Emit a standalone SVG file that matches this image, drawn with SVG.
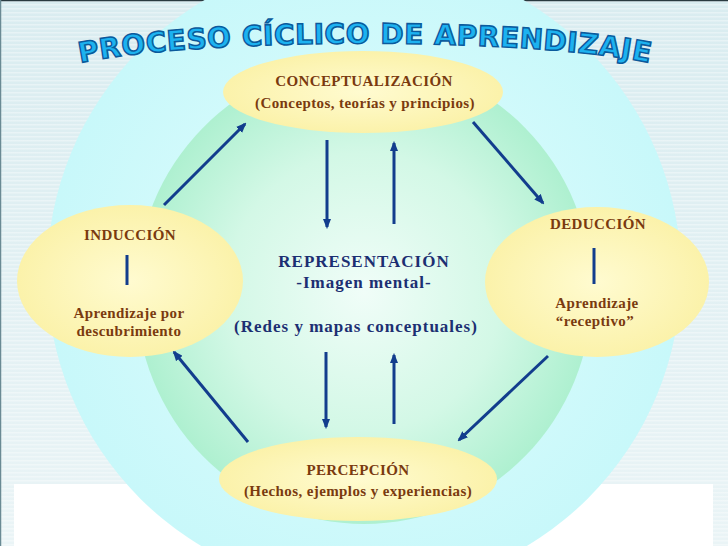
<svg xmlns="http://www.w3.org/2000/svg" width="728" height="546" viewBox="0 0 728 546">
<defs>
<style>
.node-t{font-family:"Liberation Serif","Times New Roman",serif;font-weight:bold;font-size:15px;letter-spacing:0.4px;fill:#7a3a0f;text-anchor:middle}
.rep-t{font-family:"Liberation Serif","Times New Roman",serif;font-weight:bold;font-size:17px;letter-spacing:1px;fill:#1c2f72;text-anchor:middle}
.title{font-family:"DejaVu Sans","Liberation Sans",sans-serif;font-weight:bold;font-size:28px;letter-spacing:0.5px;fill:#1cb2f0;stroke:#0b5a9c;stroke-width:1.5px}
.conn-a{stroke:#123d8d;stroke-width:3;fill:none;marker-end:url(#ah)}
.bar{stroke:#123d8d;stroke-width:3}
.yel{fill:url(#yg)}
</style>
<linearGradient id="bg" x1="0" y1="0" x2="0" y2="1">
<stop offset="0" stop-color="#d9ecf0"/>
<stop offset="1" stop-color="#eaf4f6"/>
</linearGradient>
<pattern id="stripes" width="8" height="4" patternUnits="userSpaceOnUse">
<rect width="8" height="1.5" fill="#ffffff" fill-opacity="0.35"/>
</pattern>
<radialGradient id="og" cx="0.5" cy="0.5" r="0.5">
<stop offset="0" stop-color="#e2fdfd"/>
<stop offset="1" stop-color="#c8f8fa"/>
</radialGradient>
<radialGradient id="gg" cx="0.5" cy="0.5" r="0.5">
<stop offset="0" stop-color="#f0fdf8"/>
<stop offset="0.6" stop-color="#d3f8e6"/>
<stop offset="1" stop-color="#aef0d0"/>
</radialGradient>
<radialGradient id="yg" cx="0.5" cy="0.5" r="0.5">
<stop offset="0" stop-color="#fffbd0"/>
<stop offset="1" stop-color="#fbf2aa"/>
</radialGradient>
<marker id="ah" viewBox="0 0 10 8" refX="8" refY="4" markerWidth="3.5" markerHeight="2.9" orient="auto" markerUnits="strokeWidth">
<path d="M0,0 L10,4 L0,8 z" fill="#123d8d"/>
</marker>
<path id="arc" d="M 66 66 C 185 36, 545 36, 664 66"/>
</defs>

<g id="background">
<rect width="728" height="546" fill="url(#bg)"/>
<rect width="728" height="546" fill="url(#stripes)"/>
<rect x="14" y="484" width="699" height="62" fill="#ffffff"/>
<line x1="0" y1="0.5" x2="728" y2="0.5" stroke="#2a3a40" stroke-width="1.5"/>
<line x1="0.5" y1="0" x2="0.5" y2="546" stroke="#6a8a94" stroke-width="1.5"/>
<circle cx="364" cy="274" r="317" fill="url(#og)"/>
<ellipse cx="364" cy="292" rx="228" ry="232" fill="url(#gg)"/>
</g>

<g id="title">
<text class="title"><textPath href="#arc" startOffset="50%" text-anchor="middle">PROCESO CÍCLICO DE APRENDIZAJE</textPath></text>
</g>

<g id="connectors">
<line class="conn-a" x1="164" y1="205" x2="245" y2="124"/>
<line class="conn-a" x1="473" y1="122" x2="543" y2="203"/>
<line class="conn-a" x1="548" y1="356" x2="459" y2="440"/>
<line class="conn-a" x1="248" y1="442" x2="174" y2="352"/>
<line class="conn-a" x1="327" y1="140" x2="327" y2="227"/>
<line class="conn-a" x1="394" y1="224" x2="394" y2="143"/>
<line class="conn-a" x1="326" y1="352" x2="326" y2="427"/>
<line class="conn-a" x1="394" y1="424" x2="394" y2="355"/>
</g>

<g id="conceptualizacion">
<ellipse class="yel" cx="363" cy="92" rx="140" ry="41"/>
<text class="node-t" x="364" y="86">CONCEPTUALIZACIÓN</text>
<text class="node-t" x="365" y="108">(Conceptos, teorías y principios)</text>
</g>

<g id="induccion">
<ellipse class="yel" cx="130" cy="281" rx="113" ry="76"/>
<text class="node-t" x="130" y="240">INDUCCIÓN</text>
<line class="bar" x1="127" y1="255" x2="127" y2="285"/>
<text class="node-t" x="129" y="318">Aprendizaje por</text>
<text class="node-t" x="129" y="336">descubrimiento</text>
</g>

<g id="deduccion">
<ellipse class="yel" cx="597" cy="282" rx="112" ry="75"/>
<text class="node-t" x="598" y="229">DEDUCCIÓN</text>
<line class="bar" x1="594" y1="248" x2="594" y2="284"/>
<text class="node-t" x="597" y="308">Aprendizaje</text>
<text class="node-t" x="595" y="326">“receptivo”</text>
</g>

<g id="percepcion">
<ellipse class="yel" cx="358" cy="479" rx="139" ry="42"/>
<text class="node-t" x="358" y="475">PERCEPCIÓN</text>
<text class="node-t" x="358" y="496">(Hechos, ejemplos y experiencias)</text>
</g>

<g id="representacion">
<text class="rep-t" x="364" y="267">REPRESENTACIÓN</text>
<text class="rep-t" x="364" y="288">-Imagen mental-</text>
<text class="rep-t" x="356" y="332">(Redes y mapas conceptuales)</text>
</g>
</svg>
